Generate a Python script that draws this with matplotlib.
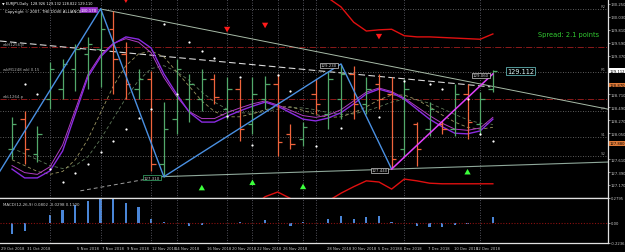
import numpy as np
import matplotlib.pyplot as plt
from matplotlib.transforms import blended_transform_factory

# daily bars (EURJPY)
opens = [127.78, 128.29, 127.70, 128.63, 128.80, 129.14, 129.40, 129.48, 129.82, 129.40,
         128.80, 128.97, 127.53, 128.29, 128.63, 128.63, 128.97, 128.46, 128.80, 128.21,
         128.63, 128.89, 128.04, 127.95, 128.72, 128.38, 128.63, 129.06, 128.55, 128.89,
         128.72, 127.78, 128.21, 128.12, 128.21, 128.12, 128.72, 128.21, 128.80]
highs = [128.33, 128.43, 128.17, 129.26, 129.31, 129.57, 129.69, 130.17, 130.13, 129.60,
         129.14, 129.11, 128.58, 129.31, 129.06, 129.14, 129.06, 129.01, 128.97, 129.01,
         129.03, 129.06, 128.21, 128.24, 128.97, 129.11, 129.23, 129.20, 129.01, 129.06,
         129.01, 128.97, 128.24, 128.58, 128.26, 128.89, 128.89, 128.75, 129.13]
lows = [127.61, 127.53, 127.56, 128.46, 128.63, 128.77, 128.80, 128.84, 128.72, 128.63,
        128.63, 127.41, 127.31, 128.04, 128.24, 128.43, 128.55, 128.29, 127.92, 128.04,
        128.46, 127.66, 127.78, 127.83, 128.38, 128.12, 128.29, 128.29, 128.38, 128.46,
        127.44, 127.66, 127.49, 128.00, 128.04, 128.00, 127.95, 128.04, 128.75]
closes = [128.21, 127.78, 128.04, 129.14, 129.23, 129.48, 129.57, 129.82, 129.31, 128.89,
          128.97, 127.53, 128.12, 129.14, 128.89, 128.97, 128.67, 128.80, 128.12, 128.72,
          128.89, 127.90, 127.87, 128.16, 128.55, 128.97, 129.06, 128.55, 128.80, 128.63,
          127.61, 128.80, 127.78, 128.46, 128.12, 128.72, 128.24, 128.63, 129.112]

# moving averages
ma_purple = [127.44, 127.29, 127.29, 127.41, 127.75, 128.38, 129.01, 129.35, 129.57, 129.69,
             129.65, 129.50, 129.06, 128.72, 128.41, 128.24, 128.24, 128.34, 128.43, 128.51,
             128.58, 128.51, 128.40, 128.29, 128.26, 128.31, 128.40, 128.55, 128.72, 128.80,
             128.74, 128.63, 128.46, 128.29, 128.16, 128.05, 128.04, 128.09, 128.29]
ma_magenta = [127.50, 127.38, 127.35, 127.48, 127.85, 128.45, 129.05, 129.38, 129.58, 129.66,
              129.60, 129.42, 129.00, 128.68, 128.42, 128.30, 128.30, 128.40, 128.48, 128.55,
              128.60, 128.53, 128.44, 128.35, 128.32, 128.36, 128.45, 128.60, 128.75, 128.82,
              128.76, 128.65, 128.50, 128.35, 128.22, 128.12, 128.10, 128.14, 128.32]
ma_slow1 = [127.60, 127.50, 127.40, 127.35, 127.40, 127.60, 127.95, 128.40, 128.85, 129.20,
            129.40, 129.45, 129.35, 129.10, 128.85, 128.60, 128.42, 128.33, 128.33, 128.38,
            128.45, 128.50, 128.50, 128.44, 128.37, 128.32, 128.33, 128.40, 128.50, 128.62,
            128.70, 128.70, 128.62, 128.50, 128.36, 128.24, 128.15, 128.12, 128.15]
ma_slow2 = [127.80, 127.70, 127.60, 127.50, 127.45, 127.50, 127.65, 127.95, 128.30, 128.65,
            128.95, 129.15, 129.20, 129.10, 128.95, 128.75, 128.58, 128.46, 128.40, 128.39,
            128.42, 128.46, 128.49, 128.48, 128.45, 128.40, 128.37, 128.38, 128.43, 128.50,
            128.58, 128.63, 128.62, 128.56, 128.47, 128.37, 128.28, 128.22, 128.20]

# red channel lines
upper_red_idx = [24, 25, 26, 27, 28, 29, 30, 31, 32, 33, 34, 35, 36, 37, 38]
upper_red = [130.60, 130.35, 130.20, 129.94, 129.79, 129.81, 129.82, 129.71, 129.69, 129.69,
             129.68, 129.67, 129.66, 129.65, 129.74]
lower_red_idx = [19, 20, 21, 22, 23, 24, 25, 26, 27, 28, 29, 30, 31, 32, 33, 34, 35, 36, 37, 38]
lower_red = [126.80, 126.97, 127.05, 126.94, 126.80, 126.80, 126.90, 127.03, 127.14, 127.24,
             127.22, 127.10, 127.27, 127.24, 127.20, 127.19, 127.19, 127.19, 127.19, 127.19]

# white dots
dot_idx = [1, 2, 3, 4, 5, 6, 7, 8, 9, 10, 11, 12, 13, 14, 15, 16, 17, 18, 19, 21, 22, 24,
           26, 29, 31, 33, 34, 36, 37, 38]
dot_val = [128.89, 128.72, 127.44, 127.22, 127.37, 127.53, 127.73, 127.92, 128.12, 128.31,
           128.46, 129.91, 128.72, 129.60, 129.45, 129.33, 128.34, 129.01, 127.85, 129.04,
           128.77, 127.83, 128.14, 128.33, 128.94, 128.89, 128.80, 128.63, 128.04, 127.92]

# zigzag
zz_idx = [-1, 7, 12, 26, 30]
zz_val = [127.39, 130.17, 127.31, 129.23, 127.44]
zz2_idx = [30, 38]
zz2_val = [127.44, 129.06]

# signal arrows
down_idx = [9, 17, 20, 29]
down_val = [130.22, 129.72, 129.79, 129.60]
up_idx = [15, 19, 23, 36]
up_val = [127.22, 127.31, 127.24, 127.49]

# levels
levels = [130.165, 129.09, 128.43, 127.99, 127.66]
level_tags = ["R2", "R1", "PP", "S1", "S2"]
price_ticks = [127.170, 127.390, 127.610, 128.050, 128.270, 128.490, 128.710,
               129.370, 129.590, 129.810, 130.030, 130.250]
box_levels = [128.870, 127.880]

# MACD histogram
macd = [-0.12, -0.09, 0.0, 0.09, 0.15, 0.20, 0.25, 0.28, 0.28, 0.22,
        0.18, 0.045, 0.01, 0.005, -0.03, -0.02, 0.005, 0.005, 0.01, 0.005,
        0.03, 0.005, -0.03, 0.01, 0.005, 0.045, 0.08, 0.05, 0.065, 0.08,
        0.01, 0.005, -0.03, -0.045, -0.045, -0.02, -0.01, 0.005, 0.065]

date_labels = ["29 Oct 2018", "31 Oct 2018", "5 Nov 2018", "7 Nov 2018", "9 Nov 2018",
               "12 Nov 2018", "14 Nov 2018", "16 Nov 2018", "20 Nov 2018", "22 Nov 2018",
               "26 Nov 2018", "28 Nov 2018", "30 Nov 2018", "5 Dec 2018", "6 Dec 2018",
               "7 Dec 2018", "10 Dec 2018", "12 Dec 2018"]
date_pos = [-0.9, 1.2, 5.1, 7.1, 9.1, 11.1, 12.9, 15.4, 17.4, 19.4, 21.4, 24.9, 26.9, 28.9,
            30.7, 32.9, 34.9, 36.7]
vgrid = [3, 7, 11, 13, 17, 19, 21, 23, 24, 31, 37]

GREEN = "#52a86a"
ORANGE = "#f0643c"
GRID = "#6c6c78"

plt.rcParams["font.family"] = "DejaVu Sans"
fig = plt.figure(figsize=(6.25, 2.53), dpi=100, facecolor="black")
ax = fig.add_axes([0, 1 - 199 / 253, 608 / 625, 199 / 253], facecolor="black")
ax2 = fig.add_axes([0, 1 - 244 / 253, 608 / 625, 45 / 253], facecolor="black")

x = np.arange(len(closes))
o = np.array(opens)
c = np.array(closes)
cols = np.where(c >= o, GREEN, ORANGE)

# grid / levels
for v in vgrid:
    ax.axvline(v, color=GRID, ls=(0, (1, 2)), lw=0.6)
    ax2.axvline(v, color=GRID, ls=(0, (1, 2)), lw=0.6)
for lv, tg in zip(levels, level_tags):
    ax.axhline(lv, color="#7c7c7c", ls=(0, (1, 2)), lw=0.6)
    ax.text(46.9, lv + 0.02, tg, color="#8a8a8a", fontsize=2.8, ha="right", va="bottom")
ax.axhline(129.52, color="#8b1a1a", ls="-.", lw=0.7)
ax.axhline(128.63, color="#8b1a1a", ls="-.", lw=0.7)
tl = blended_transform_factory(ax.transAxes, ax.transData)
ax.text(0.005, 129.55, "wkH1256.p", color="#b0b0b0", fontsize=2.8, transform=tl)
ax.text(0.005, 129.12, "wkM1248 wkl 0.15", color="#b0b0b0", fontsize=2.8, transform=tl)
ax.text(0.005, 128.66, "wkL1264.p", color="#b0b0b0", fontsize=2.8, transform=tl)

# trend lines
ax.plot([7, 47.1], [130.165, 128.46], color="#a8bca8", lw=0.7)
ax.plot([-0.95, 37.8], [129.62, 128.84], color="#d8d8d8", lw=0.8, ls=(0, (6, 3)))
ax.plot([5.4, 11.7], [127.07, 127.31], color="#a0a0a0", lw=0.7, ls=(0, (4, 3)))
ax.plot([11.7, 47.1], [127.31, 127.56], color="#8fa89a", lw=0.8)

# averages
ax.plot(x, ma_slow2, color="#5f7a5a", lw=0.6, ls=(0, (4, 3)))
ax.plot(x, ma_slow1, color="#9a9460", lw=0.6, ls=(0, (4, 3)))
ax.plot(x, ma_magenta, color="#b03cc0", lw=0.7)
ax.plot(x, ma_purple, color="#8a2be2", lw=1.0)

# red channel
ax.plot(upper_red_idx, upper_red, color="#e01010", lw=1.0)
ax.plot(lower_red_idx, lower_red, color="#e01010", lw=1.0)

# bars
ax.vlines(x, lows, highs, colors=cols, lw=0.9)
ax.hlines(opens, x - 0.35, x, colors=cols, lw=0.9)
ax.hlines(closes, x, x + 0.35, colors=cols, lw=0.9)

# zigzag
ax.plot(zz_idx, zz_val, color="#4a90e2", lw=1.0)
ax.plot(zz2_idx, zz2_val, color="#e040fb", lw=1.1)
zz_all = list(zip(zz_idx[1:], zz_val[1:])) + [(zz2_idx[-1], zz2_val[-1])]
box_cols = [("#9932cc", "#9932cc", "white"), ("black", "#3cb371", "#d0d0d0"),
            ("black", "#d0d0d0", "#d0d0d0"), ("black", "#d0d0d0", "#d0d0d0"),
            ("black", "#d0d0d0", "#d0d0d0")]
for (zi, zv), (fc, ec, tc) in zip(zz_all, box_cols):
    ax.text(zi - 0.3, zv - 0.02, f"{zv:.3f}", fontsize=2.8, color=tc, ha="right", va="center",
            bbox=dict(boxstyle="square,pad=0.15", fc=fc, ec=ec, lw=0.5))

# dots
ax.plot(dot_idx, dot_val, ls="none", marker="o", ms=1.6, color="white", mec="none")

# arrows
for di, dv in zip(down_idx, down_val):
    ax.annotate("", xy=(di, dv), xytext=(di, dv + 0.12),
                arrowprops=dict(arrowstyle="simple,head_width=0.45,head_length=0.4,tail_width=0.18",
                                color="#ff1a1a", lw=0))
for ui, uv in zip(up_idx, up_val):
    ax.annotate("", xy=(ui, uv), xytext=(ui, uv - 0.12),
                arrowprops=dict(arrowstyle="simple,head_width=0.45,head_length=0.4,tail_width=0.18",
                                color="#3cff3c", lw=0))

# texts
ax.text(0.885, 0.824, "Spread: 2.1 points", transform=ax.transAxes, color="#32cd32", fontsize=4.8,
        va="center")
ax.text(40.2, c[-1], f"{c[-1]:.3f}", color="#d8f4f4", fontsize=4.8, ha="center", va="center",
        bbox=dict(boxstyle="square,pad=0.12", fc="black", ec="#5fb0b0", lw=0.6))
fig.text(0.004, 1 - 3.5 / 253, "\u25bc EURJPY,Daily  128.926 129.132 128.822 129.110", color="white",
         fontsize=2.5, va="center")
fig.text(0.008, 1 - 11.5 / 253, "Copyright \u00a9 2007, THE DOVE ALLIANCE", color="white",
         fontsize=2.7, va="center")

ax.set_xlim(-0.95, 47.1)
ax.set_ylim(126.948, 130.335)
ax.yaxis.tick_right()
ax.set_yticks(price_ticks)
ax.set_yticklabels([f"{t:.3f}" for t in price_ticks])
ax.tick_params(axis="y", labelsize=2.7, colors="#c8c8c8", length=1.2, width=0.5, pad=0.6)
ax.set_xticks([])
for s in ["left", "top"]:
    ax.spines[s].set_visible(False)
for s in ["right", "bottom"]:
    ax.spines[s].set_color("#e0e0e0")
    ax.spines[s].set_linewidth(0.9)

ax.text(1.002, c[-1], f"{c[-1]:.3f}", transform=tl, fontsize=2.7, color="black", va="center",
        clip_on=False, bbox=dict(boxstyle="square,pad=0.1", fc="white", ec="none"))
for lv in box_levels:
    ax.text(1.002, lv, f"{lv:.3f}", transform=tl, fontsize=2.7, color="black", va="center",
            clip_on=False, bbox=dict(boxstyle="square,pad=0.1", fc="#e07b39", ec="none"))

# MACD panel
ax2.bar(x, macd, width=0.18, color="#4a86d8")
ax2.axhline(0, color="#8b1010", ls=(0, (1, 1.5)), lw=0.8)
ax2.set_xlim(-0.95, 47.1)
ax2.set_ylim(-0.2236, 0.2795)
ax2.yaxis.tick_right()
ax2.set_yticks([-0.2236, 0, 0.2795])
ax2.set_yticklabels(["-0.2236", "0.00", "0.2795"])
ax2.tick_params(axis="y", labelsize=2.7, colors="#c8c8c8", length=1.2, width=0.5, pad=0.6)
ax2.set_xticks([])
ax2.spines["left"].set_visible(False)
for s in ["right", "bottom", "top"]:
    ax2.spines[s].set_color("#e0e0e0")
    ax2.spines[s].set_linewidth(0.9)
ax2.text(0.005, 0.92, "MACD(12,26,9) 0.0802 -0.0298 0.1100", transform=ax2.transAxes,
         color="#d0d0d0", fontsize=2.9, va="top")
trd = blended_transform_factory(ax2.transData, ax2.transAxes)
for lab, p in zip(date_labels, date_pos):
    ax2.text(p, -0.12, lab, transform=trd, color="#c8c8c8", fontsize=2.7, va="center",
             clip_on=False)

fig.savefig("out.png", dpi=100, facecolor="black")
